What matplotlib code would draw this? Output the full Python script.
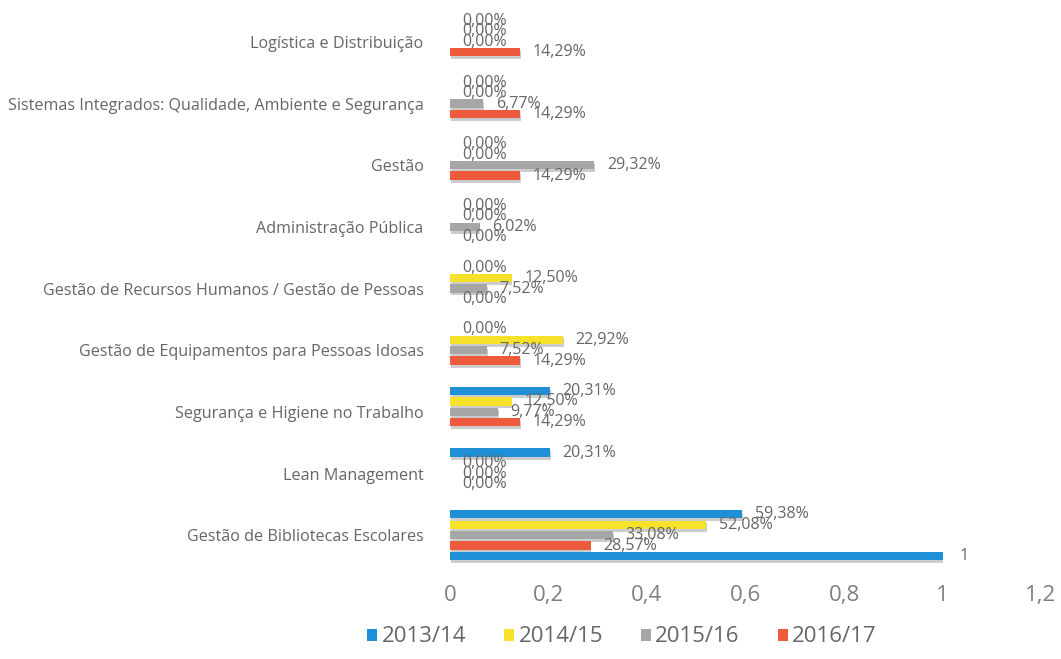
import matplotlib
matplotlib.use('Agg')
import matplotlib.pyplot as plt
import matplotlib.patheffects as pe
from matplotlib.patches import Patch
import numpy as np

plt.rcParams['font.family'] = ['Open Sans', 'DejaVu Sans']

# categories, top to bottom
categories = ['Logística e Distribuição',
              'Sistemas Integrados: Qualidade, Ambiente e Segurança',
              'Gestão',
              'Administração Pública',
              'Gestão de Recursos Humanos / Gestão de Pessoas',
              'Gestão de Equipamentos para Pessoas Idosas',
              'Segurança e Higiene no Trabalho',
              'Lean Management',
              'Gestão de Bibliotecas Escolares']
s2013 = [0, 0, 0, 0, 0, 0, 0.2031, 0.2031, 0.5938]
s2014 = [0, 0, 0, 0, 0.1250, 0.2292, 0.1250, 0, 0.5208]
s2015 = [0, 0.0677, 0.2932, 0.0602, 0.0752, 0.0752, 0.0977, 0, 0.3308]
s2016 = [0.1429, 0.1429, 0.1429, 0, 0, 0.1429, 0.1429, 0, 0.2857]
extra = [None, None, None, None, None, None, None, None, 1]   # unlabeled 5th series
series_names = ['2013/14', '2014/15', '2015/16', '2016/17']
xticks = [0, 0.2, 0.4, 0.6, 0.8, 1, 1.2]

BLUE = '#1F8FD8'; YELLOW = '#F6E22A'; GRAY = '#A6A6A6'; RED = '#EE5A3C'
TXT = '#666666'
colors = [BLUE, YELLOW, GRAY, RED]

fig = plt.figure(figsize=(10.61, 6.59), dpi=100)
ax = fig.add_axes([450/1061, 1-566/659, (1041-450)/1061, (566-11)/659])

y = np.arange(len(categories))
slot = 0.169
bh = 0.135
shadow = [pe.SimplePatchShadow(offset=(0.5, -2), shadow_rgbFace='#9a9a9a', alpha=0.5), pe.Normal()]

def pct(v):
    return ('%.2f%%' % (v*100)).replace('.', ',')

all_series = [s2013, s2014, s2015, s2016]
for i, (vals, c) in enumerate(zip(all_series, colors)):
    yy = y + (i-2)*slot
    ax.barh(yy, vals, height=bh, color=c, path_effects=shadow)
    for yv, v in zip(yy, vals):
        ax.annotate(pct(v), (v, yv), xytext=(9, 0), textcoords='offset points',
                    ha='left', va='center', fontsize=11.5, color=TXT)

# 5th bar slot (only last category)
ex_y = [yv + 2*slot for yv, v in zip(y, extra) if v is not None]
ex_v = [v for v in extra if v is not None]
ax.barh(ex_y, ex_v, height=bh, color=BLUE, path_effects=shadow)
for yv, v in zip(ex_y, ex_v):
    ax.annotate('%g' % v, (v, yv), xytext=(12, 0), textcoords='offset points',
                ha='left', va='center', fontsize=11.5, color=TXT)

ax.set_xlim(0, 1.2)
ax.set_ylim(len(categories)-0.5, -0.5)
ax.set_yticks(y)
ax.set_yticklabels(categories, fontsize=11.6, color=TXT)
ax.set_xticks(xticks)
ax.set_xticklabels([('%g' % t).replace('.', ',') for t in xticks], fontsize=16, color='#7f7f7f')
ax.tick_params(axis='both', length=0)
ax.tick_params(axis='y', pad=19)
ax.tick_params(axis='x', pad=14)
for s in ax.spines.values():
    s.set_visible(False)

handles = [Patch(facecolor=c, edgecolor='none') for c in colors]
fig.legend(handles, series_names, loc='center', bbox_to_anchor=(622/1061, 1-637/659),
           ncol=4, frameon=False, fontsize=16, handlelength=0.45, handleheight=0.45,
           handletextpad=0.2, columnspacing=1.7, labelcolor=TXT)

fig.savefig('out.png', dpi=100, facecolor='white')
